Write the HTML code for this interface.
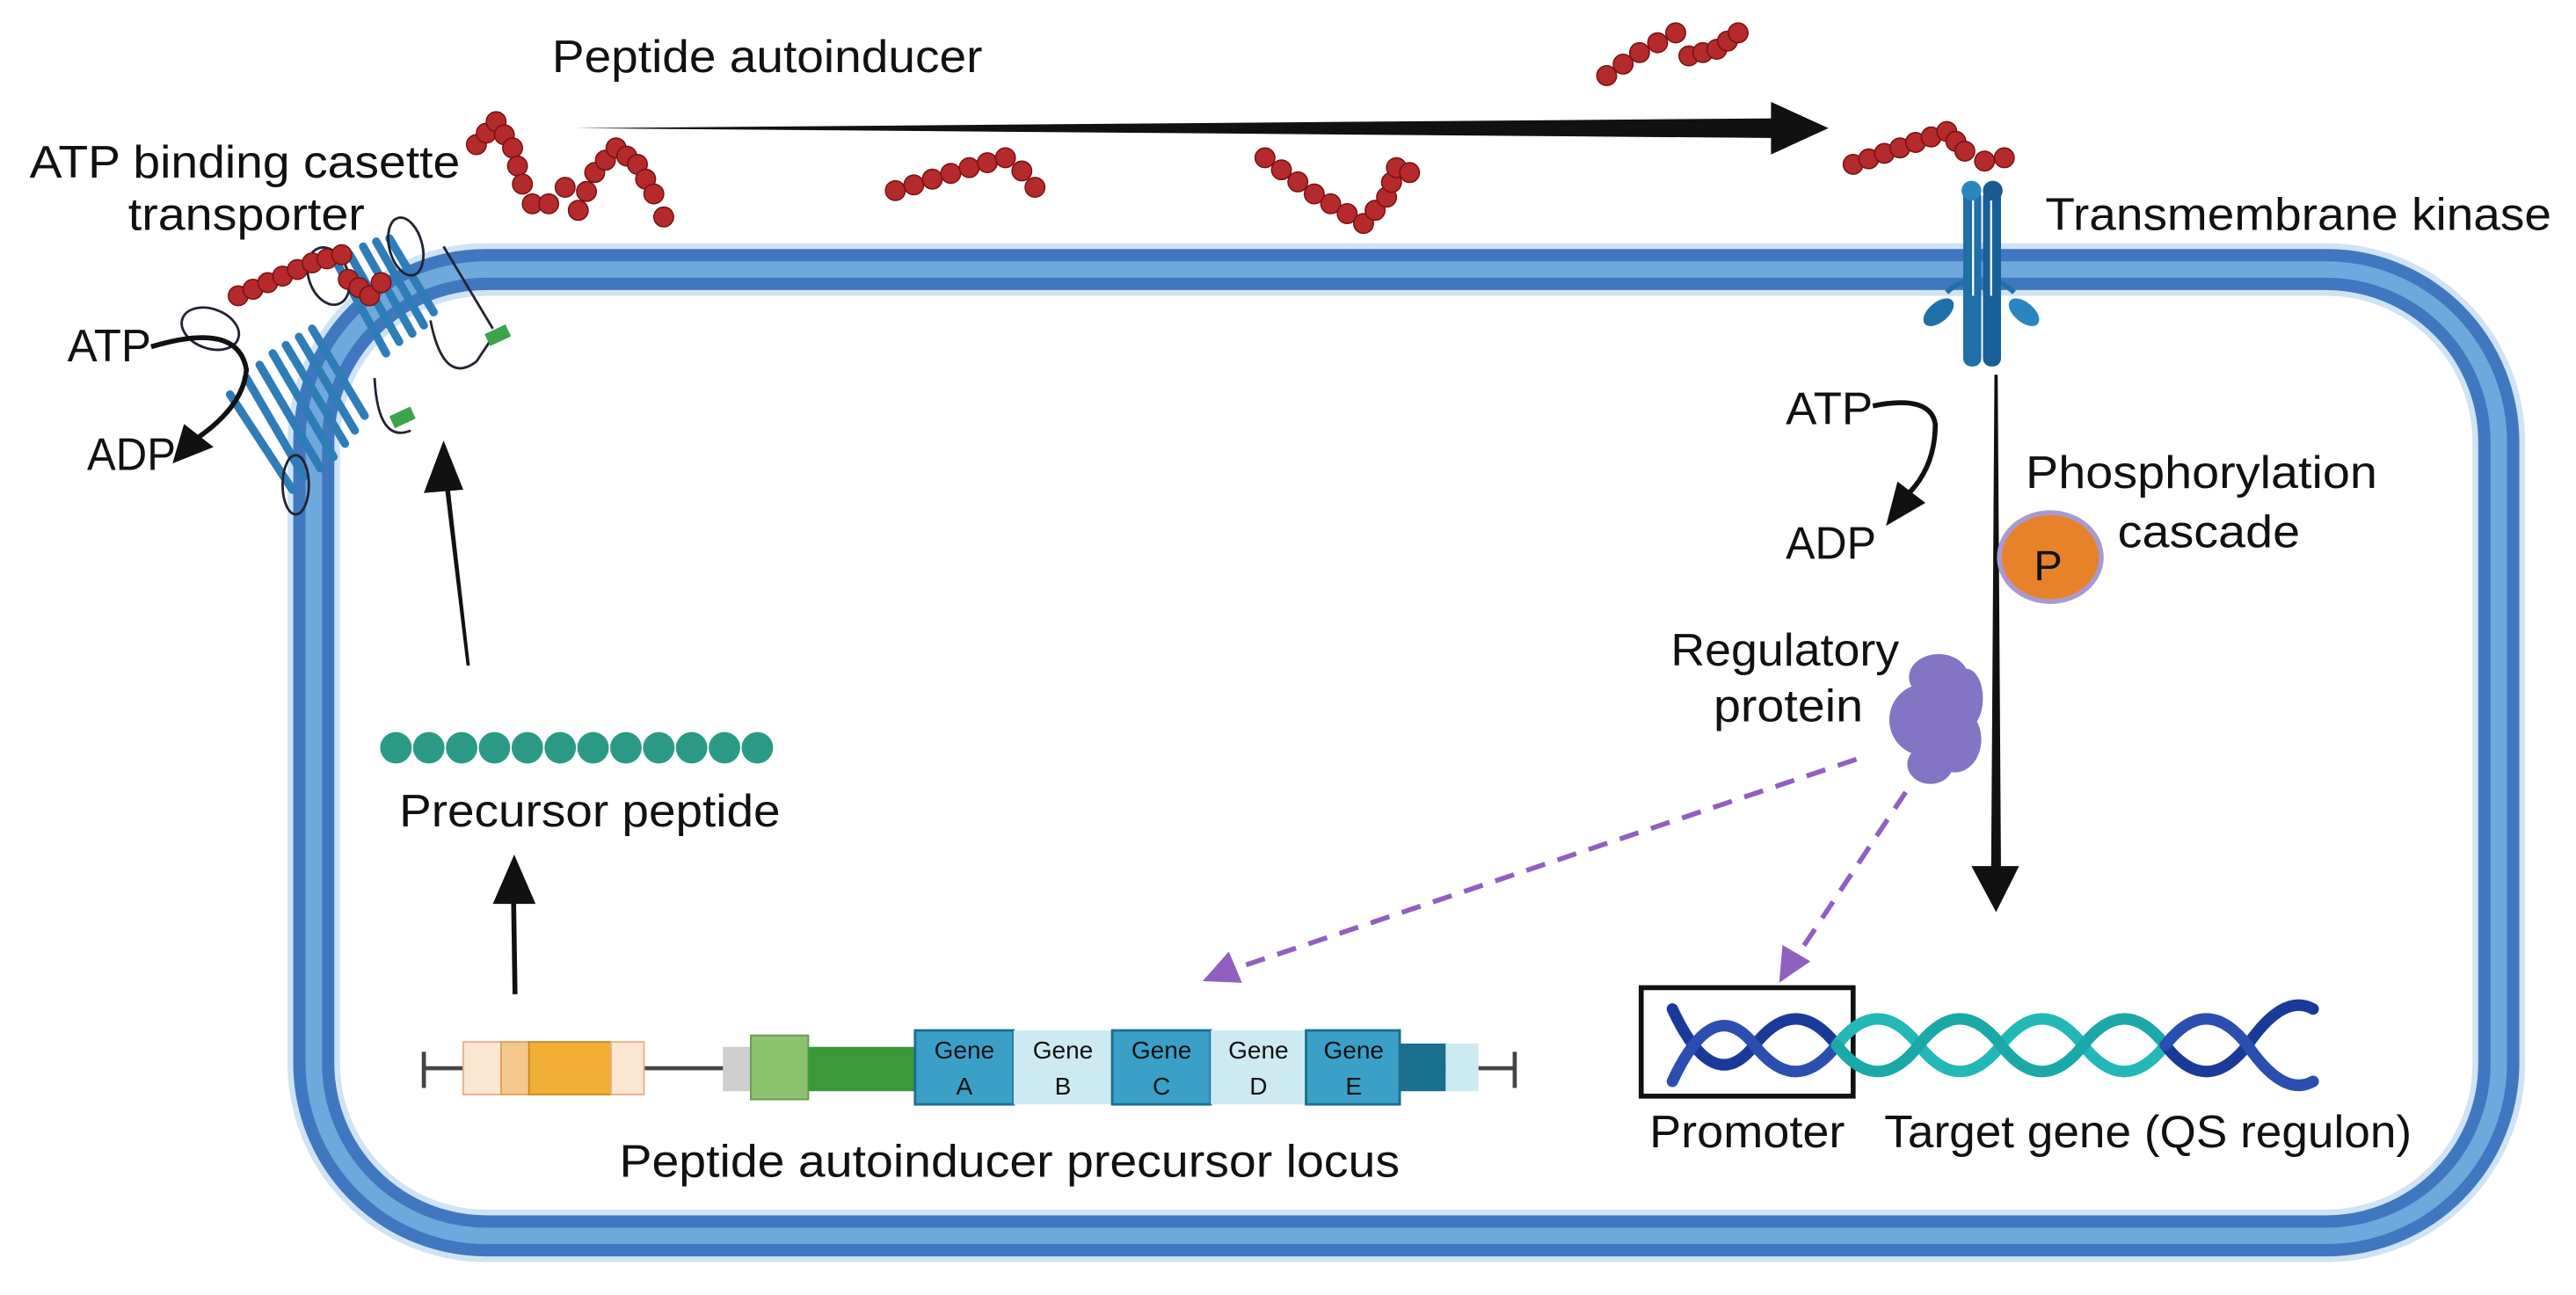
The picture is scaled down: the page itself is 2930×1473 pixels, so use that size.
<!DOCTYPE html>
<html><head><meta charset="utf-8"><style>
html,body{margin:0;padding:0;background:#fff}
svg{display:block}
text{font-family:"Liberation Sans",sans-serif;fill:#111}
</style></head><body>
<svg id="s" width="2930" height="1473" viewBox="0 0 1568 788" preserveAspectRatio="none" xmlns="http://www.w3.org/2000/svg">
<!-- membrane -->
<rect x="191" y="164" width="1330" height="588" rx="105" fill="none" stroke="#cfe3f5" stroke-width="32"/>
<rect x="191" y="164" width="1330" height="588" rx="105" fill="none" stroke="#3f78c0" stroke-width="25"/>
<rect x="191" y="164" width="1330" height="588" rx="105" fill="none" stroke="#6fa8dc" stroke-width="10"/>

<g font-size="28" lengthAdjust="spacingAndGlyphs">
<text x="336" y="44" textLength="262" lengthAdjust="spacingAndGlyphs">Peptide autoinducer</text>
<text x="18" y="108" textLength="262" lengthAdjust="spacingAndGlyphs">ATP binding casette</text>
<text x="78" y="140" textLength="144" lengthAdjust="spacingAndGlyphs">transporter</text>
<text x="41" y="220" textLength="51" lengthAdjust="spacingAndGlyphs">ATP</text>
<text x="53" y="286" textLength="54" lengthAdjust="spacingAndGlyphs">ADP</text>
<text x="243" y="503" textLength="232" lengthAdjust="spacingAndGlyphs">Precursor peptide</text>
<text x="377" y="716" textLength="475" lengthAdjust="spacingAndGlyphs">Peptide autoinducer precursor locus</text>
<text x="1245" y="140" textLength="308" lengthAdjust="spacingAndGlyphs">Transmembrane kinase</text>
<text x="1087" y="258" textLength="53" lengthAdjust="spacingAndGlyphs">ATP</text>
<text x="1087" y="340" textLength="55" lengthAdjust="spacingAndGlyphs">ADP</text>
<text x="1233" y="297" textLength="214" lengthAdjust="spacingAndGlyphs">Phosphorylation</text>
<text x="1289" y="333" textLength="111" lengthAdjust="spacingAndGlyphs">cascade</text>
<text x="1017" y="405" textLength="139" lengthAdjust="spacingAndGlyphs">Regulatory</text>
<text x="1043" y="439" textLength="91" lengthAdjust="spacingAndGlyphs">protein</text>
<text x="1004" y="698" textLength="119" lengthAdjust="spacingAndGlyphs">Promoter</text>
<text x="1147" y="698" textLength="321" lengthAdjust="spacingAndGlyphs">Target gene (QS regulon)</text>
</g>

<polygon points="350,78 1082,72 1082,84" fill="#111"/>
<polygon points="1078,62 1113,78 1078,94" fill="#111"/>

<!-- ABC transporter -->
<g stroke="#2e7cb8" stroke-width="5" stroke-linecap="round" fill="none">
  <line x1="150" y1="230" x2="185" y2="290"/>
  <line x1="158" y1="222" x2="195" y2="285"/>
  <line x1="166" y1="215" x2="203" y2="278"/>
  <line x1="174" y1="210" x2="210" y2="270"/>
  <line x1="182" y1="205" x2="216" y2="262"/>
  <line x1="140" y1="240" x2="178" y2="298"/>
  <line x1="190" y1="200" x2="222" y2="253"/>
  <line x1="205" y1="160" x2="235" y2="215"/>
  <line x1="213" y1="155" x2="243" y2="208"/>
  <line x1="221" y1="150" x2="251" y2="203"/>
  <line x1="229" y1="147" x2="258" y2="198"/>
  <line x1="237" y1="145" x2="264" y2="190"/>
</g>
<g stroke="#223" stroke-width="1.5" fill="none">
  <ellipse cx="128" cy="200" rx="18" ry="12" transform="rotate(20 128 200)"/>
  <ellipse cx="180" cy="295" rx="8" ry="18"/>
  <ellipse cx="200" cy="168" rx="12" ry="18" transform="rotate(-20 200 168)"/>
  <ellipse cx="247" cy="150" rx="10" ry="18" transform="rotate(-15 247 150)"/>
  <path d="M262,195 Q270,235 290,220 L300,205"/>
  <path d="M228,230 Q230,270 250,262"/>
  <path d="M270,150 L300,200"/>
</g>
<rect x="296" y="200" width="14" height="8" fill="#3aa44a" transform="rotate(-25 303 204)"/>
<rect x="238" y="250" width="14" height="8" fill="#3aa44a" transform="rotate(-25 245 254)"/>

<path d="M92,211 Q145,195 150,225 Q148,248 118,268" stroke="#111" stroke-width="3" fill="none"/>
<polygon points="105,282 112,258 130,272" fill="#111"/>

<polygon points="284,405 286,405 273,290 270,290" fill="#111"/>
<polygon points="258,300 270,268 282,298" fill="#111"/>

<g id="precursor" fill="#2a9a86"></g>
<polygon points="312,605 315,605 314,540 311,540" fill="#111"/>
<polygon points="300,550 313,520 326,550" fill="#111"/>

<!-- locus -->
<line x1="258" y1="650" x2="922" y2="650" stroke="#444" stroke-width="2.5"/>
<line x1="258" y1="640" x2="258" y2="662" stroke="#444" stroke-width="2.5"/>
<line x1="922" y1="640" x2="922" y2="662" stroke="#444" stroke-width="2.5"/>
<rect x="282" y="634" width="23" height="32" fill="#fbe6d2" stroke="#e8b08a" stroke-width="1"/>
<rect x="305" y="634" width="17" height="32" fill="#f4c88c" stroke="#e0a060" stroke-width="1"/>
<rect x="322" y="634" width="50" height="32" fill="#f0ae35" stroke="#c88a20" stroke-width="1"/>
<rect x="372" y="634" width="20" height="32" fill="#fbe6d2" stroke="#e8b08a" stroke-width="1"/>
<rect x="440" y="637" width="17" height="27" fill="#cfcfcf"/>
<rect x="457" y="630" width="35" height="39" fill="#8dc26f" stroke="#6a9a50" stroke-width="1"/>
<rect x="492" y="637" width="65" height="27" fill="#3a9a3a"/>
<rect x="557" y="627" width="60" height="45" fill="#3aa0c8" stroke="#1c6e8e" stroke-width="1.5"/>
<rect x="617" y="627" width="60" height="45" fill="#cdeaf3"/>
<rect x="677" y="627" width="60" height="45" fill="#3aa0c8" stroke="#1c6e8e" stroke-width="1.5"/>
<rect x="737" y="627" width="58" height="45" fill="#cdeaf3"/>
<rect x="795" y="627" width="57" height="45" fill="#3aa0c8" stroke="#1c6e8e" stroke-width="1.5"/>
<rect x="852" y="635" width="28" height="29" fill="#1a6e8e"/>
<rect x="880" y="635" width="20" height="29" fill="#cdeaf3"/>
<g font-size="15" text-anchor="middle">
<text x="587" y="644">Gene</text><text x="587" y="666">A</text>
<text x="647" y="644">Gene</text><text x="647" y="666">B</text>
<text x="707" y="644">Gene</text><text x="707" y="666">C</text>
<text x="766" y="644">Gene</text><text x="766" y="666">D</text>
<text x="824" y="644">Gene</text><text x="824" y="666">E</text>
</g>

<!-- kinase -->
<g>
<path d="M1185,178 Q1195,168 1200,175" stroke="#1f6fa8" stroke-width="3" fill="none"/>
<path d="M1226,178 Q1216,168 1211,175" stroke="#1f6fa8" stroke-width="3" fill="none"/>
<ellipse cx="1180" cy="190" rx="6" ry="11" fill="#1f6fa8" transform="rotate(50 1180 190)"/>
<ellipse cx="1232" cy="190" rx="6" ry="11" fill="#2a86c0" transform="rotate(-50 1232 190)"/>
<rect x="1195" y="115" width="11" height="108" rx="5" fill="#1f6fa8"/>
<rect x="1207" y="115" width="11" height="108" rx="5" fill="#17609a"/>
<circle cx="1200" cy="116" r="6" fill="#2a86c0"/>
<circle cx="1213" cy="116" r="6" fill="#1a5a90"/>
<line x1="1201" y1="122" x2="1201" y2="180" stroke="#fff" stroke-width="1.2"/>
<line x1="1212" y1="122" x2="1212" y2="180" stroke="#fff" stroke-width="1.2"/>
</g>

<polygon points="1214,228 1216,228 1218,530 1212,530" fill="#111"/>
<polygon points="1200,527 1215,555 1229,527" fill="#111"/>

<path d="M1140,247 Q1175,240 1178,258 Q1178,285 1160,302" stroke="#111" stroke-width="3" fill="none"/>
<polygon points="1148,320 1155,293 1172,306" fill="#111"/>

<ellipse cx="1248" cy="339" rx="31" ry="27" fill="#e8822a" stroke="#a89ad0" stroke-width="3"/>
<text x="1238" y="353" font-size="26">P</text>

<g fill="#8474c4">
<ellipse cx="1180" cy="412" rx="18" ry="14"/>
<ellipse cx="1172" cy="438" rx="22" ry="22"/>
<ellipse cx="1190" cy="450" rx="16" ry="20"/>
<ellipse cx="1175" cy="465" rx="14" ry="12"/>
<ellipse cx="1197" cy="425" rx="10" ry="18"/>
</g>

<line x1="1130" y1="462" x2="750" y2="590" stroke="#9060c0" stroke-width="3" stroke-dasharray="12,8"/>
<polygon points="732,597 748,579 756,598" fill="#9060c0"/>
<line x1="1160" y1="482" x2="1095" y2="580" stroke="#9060c0" stroke-width="3" stroke-dasharray="12,8"/>
<polygon points="1083,598 1085,575 1102,585" fill="#9060c0"/>

<!-- DNA -->
<rect x="999" y="601" width="129" height="66" fill="none" stroke="#111" stroke-width="3"/>
<g fill="none" stroke-width="7" stroke-linecap="round">
<path d="M1018,614 Q1043,668 1068,636 T1118,636" stroke="#1a3a9a"/>
<path d="M1018,658 Q1043,604 1068,636 T1118,636" stroke="#2a4fb0"/>
<path d="M1118,636 Q1143,604 1168,636 T1218,636 T1268,636 T1318,636" stroke="#22b8b8"/>
<path d="M1118,636 Q1143,668 1168,636 T1218,636 T1268,636 T1318,636" stroke="#1aa8a8"/>
<path d="M1318,636 Q1343,668 1368,636 Q1390,604 1408,614" stroke="#1a3a9a"/>
<path d="M1318,636 Q1343,604 1368,636 Q1390,668 1408,658" stroke="#2a4fb0"/>
</g>

<g id="beads" fill="#b52a2a" stroke="#7a1010" stroke-width="0.8"></g>
</svg>
<script>
var NS="http://www.w3.org/2000/svg";
var b=document.getElementById("beads");
function chain(pts,r){for(var i=0;i<pts.length-1;i++){var a=pts[i],c=pts[i+1];var d=Math.hypot(c[0]-a[0],c[1]-a[1]);var n=Math.max(1,Math.round(d/(r*1.8)));for(var k=0;k<n;k++){var t=k/n;var e=document.createElementNS(NS,"circle");e.setAttribute("cx",a[0]+(c[0]-a[0])*t);e.setAttribute("cy",a[1]+(c[1]-a[1])*t);e.setAttribute("r",r);b.appendChild(e);}}var l=pts[pts.length-1];var e=document.createElementNS(NS,"circle");e.setAttribute("cx",l[0]);e.setAttribute("cy",l[1]);e.setAttribute("r",r);b.appendChild(e);}
var r=6;
chain([[290,88],[302,74],[312,90],[318,112],[324,124],[334,124],[344,114]],r);
chain([[352,128],[362,105],[375,90],[388,100],[398,118],[404,132]],r);
chain([[545,116],[590,102],[612,96],[622,104],[630,114]],r);
chain([[770,96],[800,118],[830,136],[844,120],[850,102],[858,105]],r);
chain([[978,46],[998,32],[1020,20],[1028,34],[1045,30],[1058,20]],r);
chain([[1128,100],[1185,80],[1196,92],[1208,98],[1220,96]],r);
chain([[145,180],[190,160],[208,155],[212,170],[225,180],[232,172]],r);
var p=document.getElementById("precursor");
for(var i=0;i<12;i++){var e=document.createElementNS(NS,"circle");e.setAttribute("cx",241+i*20);e.setAttribute("cy",455);e.setAttribute("r",9.6);p.appendChild(e);}
</script>
</body></html>
